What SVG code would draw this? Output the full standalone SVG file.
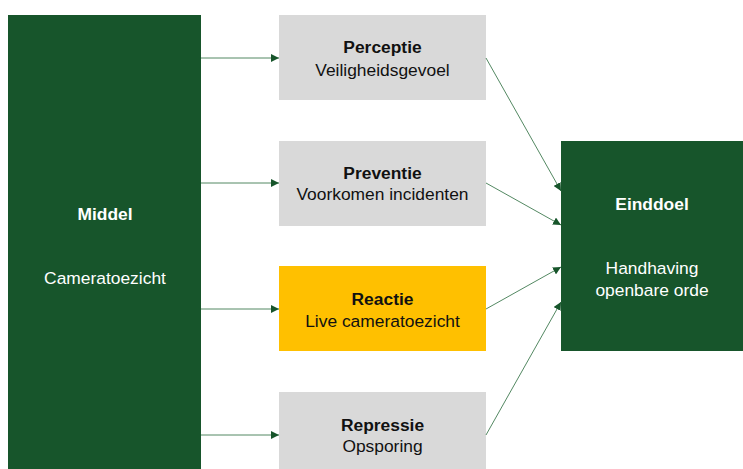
<svg xmlns="http://www.w3.org/2000/svg" width="743" height="469" viewBox="0 0 743 469">
<defs>
<style>
.g{fill:#17552b}
.grey{fill:#d9d9d9}
.y{fill:#ffc000}
text{font-family:"Liberation Sans",Arial,sans-serif;font-size:17.4px;text-anchor:middle}
.b{font-weight:bold}
.w{fill:#ffffff}
.k{fill:#111111}
.c{stroke:#3f7a50;stroke-width:0.9;fill:none;marker-end:url(#ah)}
</style>
<marker id="ah" viewBox="0 0 10 10" refX="10" refY="5" markerWidth="8" markerHeight="8" markerUnits="userSpaceOnUse" orient="auto">
<path d="M0,0 L10,5 L0,10 z" fill="#17552b"/>
</marker>
</defs>
<rect width="743" height="469" fill="#ffffff"/>
<g id="middel">
<rect class="g" x="8" y="15" width="193" height="460"/>
<text class="w b" x="105" y="220">Middel</text>
<text class="w" x="105" y="284">Cameratoezicht</text>
</g>
<g id="perceptie">
<rect class="grey" x="279" y="15" width="207" height="85"/>
<text class="k b" x="382.5" y="53">Perceptie</text>
<text class="k" x="382.5" y="76">Veiligheidsgevoel</text>
</g>
<g id="preventie">
<rect class="grey" x="279" y="141" width="207" height="85"/>
<text class="k b" x="382.5" y="179">Preventie</text>
<text class="k" x="382.5" y="200">Voorkomen incidenten</text>
</g>
<g id="reactie">
<rect class="y" x="279" y="266" width="207" height="85"/>
<text class="k b" x="382.5" y="305">Reactie</text>
<text class="k" x="382.5" y="327">Live cameratoezicht</text>
</g>
<g id="repressie">
<rect class="grey" x="279" y="392" width="207" height="85"/>
<text class="k b" x="382.5" y="431">Repressie</text>
<text class="k" x="382.5" y="452">Opsporing</text>
</g>
<g id="einddoel">
<rect class="g" x="561" y="141" width="190" height="210"/>
<text class="w b" x="652" y="210">Einddoel</text>
<text class="w" x="652" y="274">Handhaving</text>
<text class="w" x="652" y="296">openbare orde</text>
</g>
<g id="connectors">
<line class="c" x1="201" y1="58" x2="279" y2="58"/>
<line class="c" x1="201" y1="183" x2="279" y2="183"/>
<line class="c" x1="201" y1="309" x2="279" y2="309"/>
<line class="c" x1="201" y1="435" x2="279" y2="435"/>
<line class="c" x1="486" y1="58" x2="561" y2="191"/>
<line class="c" x1="486" y1="183" x2="561" y2="225"/>
<line class="c" x1="486" y1="309" x2="561" y2="267"/>
<line class="c" x1="486" y1="435" x2="561" y2="302"/>
</g>
</svg>
